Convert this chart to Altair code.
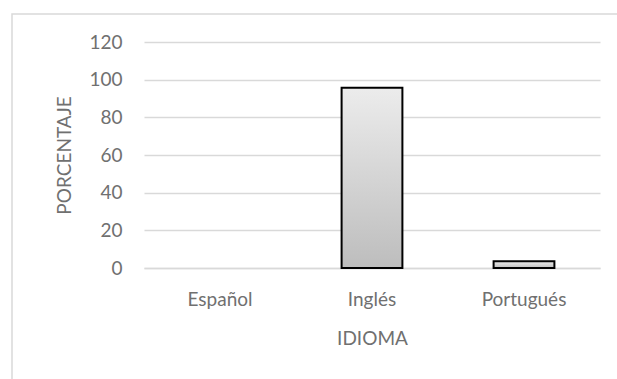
import altair as alt
import pandas as pd

idiomas = ["Español", "Inglés", "Portugués"]
porcentajes = [0.0, 95.7, 3.6]
y_ticks = [0, 20, 40, 60, 80, 100, 120]

df = pd.DataFrame({"IDIOMA": idiomas, "PORCENTAJE": porcentajes})

W, H = 456, 226
PL, PT = 144, 42
FONT = "Lato"
FS = 19
GREY = "#707070"

frame = alt.Chart(pd.DataFrame({"k": [0]})).mark_rect(
    fill=None, stroke="#d9d9d9", strokeWidth=1.5
).encode(
    x=alt.value(12 - PL), x2=alt.value(640 - PL),
    y=alt.value(14 - PT), y2=alt.value(400 - PT),
)

grad = alt.Gradient(
    gradient="linear",
    stops=[alt.GradientStop(color="#ececec", offset=0),
           alt.GradientStop(color="#bdbdbd", offset=1)],
    x1=0, x2=0, y1=0, y2=1,
)

bars = alt.Chart(df).mark_bar(
    fill=grad, stroke="#000000"
).encode(
    x=alt.X("IDIOMA:N", sort=idiomas,
            scale=alt.Scale(paddingInner=0.6, paddingOuter=0.3),
            axis=alt.Axis(title="IDIOMA", labelAngle=0, ticks=False,
                          domain=True, domainColor="#d9d9d9", domainWidth=1.5,
                          labelPadding=22, titlePadding=20,
                          labelFontSize=FS, titleFontSize=FS,
                          labelColor=GREY, titleColor=GREY,
                          labelFont=FONT, titleFont=FONT,
                          titleFontWeight="normal")),
    y=alt.Y("PORCENTAJE:Q",
            scale=alt.Scale(domain=[0, 120], nice=False),
            axis=alt.Axis(title="PORCENTAJE", values=y_ticks, ticks=False,
                          domain=False, grid=True, gridColor="#d9d9d9",
                          gridWidth=1.5,
                          labelPadding=22, titlePadding=14,
                          labelFontSize=FS, titleFontSize=FS,
                          labelColor=GREY, titleColor=GREY,
                          labelFont=FONT, titleFont=FONT,
                          titleFontWeight="normal")),
    strokeWidth=alt.condition("datum.PORCENTAJE > 0", alt.value(2), alt.value(0)),
)

chart = alt.layer(frame, bars).properties(
    width=W, height=H,
    padding={"left": PL, "top": PT, "right": 617 - PL - W, "bottom": 379 - PT - H},
    autosize=alt.AutoSizeParams(type="none"),
    background="white",
).configure_view(stroke=None)

chart.save("out.html", embed_options={"renderer": "svg", "actions": False})
